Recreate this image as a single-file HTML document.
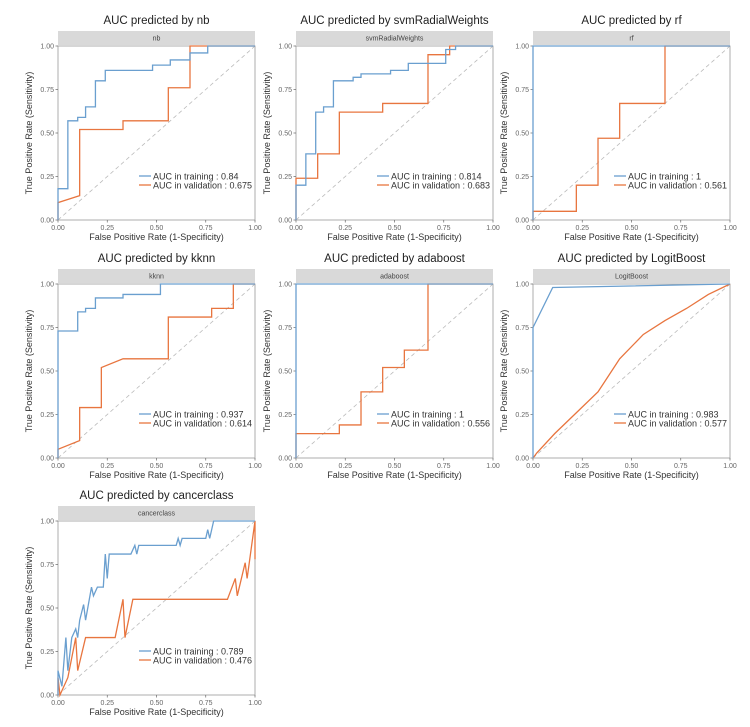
<!DOCTYPE html>
<html><head><meta charset="utf-8"><style>
body{margin:0;background:#fff;width:750px;height:727px;overflow:hidden;font-family:"Liberation Sans",sans-serif}
svg{display:block}
</style></head><body>
<svg id="chart" width="750" height="727" viewBox="0 0 750 727" xmlns="http://www.w3.org/2000/svg"></svg>
<script>
const models=["nb","svmRadialWeights","rf","kknn","adaboost","LogitBoost","cancerclass"];
const aucTrain=["0.84","0.814","1","0.937","1","0.983","0.789"];
const aucVal=["0.675","0.683","0.561","0.614","0.556","0.577","0.476"];
const trainFPR=[
[0,0,0.05,0.05,0.1,0.1,0.14,0.14,0.19,0.19,0.24,0.24,0.48,0.48,0.57,0.57,0.67,0.67,0.76,0.76,1],
[0,0,0.05,0.05,0.1,0.1,0.14,0.14,0.19,0.19,0.29,0.29,0.33,0.33,0.48,0.48,0.57,0.57,0.76,0.76,0.81,0.81,1],
[0,0,1],
[0,0,0.1,0.1,0.14,0.14,0.19,0.19,0.33,0.33,0.52,0.52,1],
[0,0,1],
[0,0,0.1,1],
[0,0,0.02,0.04,0.05,0.07,0.09,0.1,0.11,0.13,0.14,0.17,0.18,0.2,0.23,0.24,0.25,0.26,0.37,0.39,0.4,0.41,0.6,0.61,0.62,0.63,0.75,0.76,0.77,0.79,1]];
const trainTPR=[
[0,0.18,0.18,0.57,0.57,0.59,0.59,0.65,0.65,0.8,0.8,0.86,0.86,0.89,0.89,0.92,0.92,0.96,0.96,1,1],
[0,0.2,0.2,0.38,0.38,0.62,0.62,0.65,0.65,0.8,0.8,0.82,0.82,0.84,0.84,0.86,0.86,0.9,0.9,0.98,0.98,1,1],
[0,1,1],
[0,0.73,0.73,0.84,0.84,0.86,0.86,0.92,0.92,0.94,0.94,1,1],
[0,1,1],
[0,0.75,0.98,1],
[0,0.14,0.05,0.33,0.14,0.33,0.38,0.33,0.43,0.52,0.43,0.62,0.57,0.62,0.62,0.81,0.67,0.81,0.81,0.86,0.81,0.86,0.86,0.9,0.86,0.9,0.9,0.95,0.9,1,1]];
const valFPR=[
[0,0,0.11,0.11,0.33,0.33,0.56,0.56,0.67,0.67,1],
[0,0,0.11,0.11,0.22,0.22,0.44,0.44,0.67,0.67,0.78,0.78,1],
[0,0,0.22,0.22,0.33,0.33,0.44,0.44,0.67,0.67,1],
[0,0,0.11,0.11,0.22,0.22,0.33,0.56,0.56,0.78,0.78,0.89,0.89,1],
[0,0,0.22,0.22,0.33,0.33,0.44,0.44,0.55,0.55,0.67,0.67,1],
[0,0.02,0.11,0.22,0.33,0.44,0.56,0.67,0.78,0.89,1],
[0,0,0.01,0.05,0.09,0.1,0.14,0.29,0.33,0.34,0.38,0.86,0.9,0.91,0.95,0.96,1,1]];
const valTPR=[
[0,0.1,0.14,0.52,0.52,0.57,0.57,0.76,0.76,1,1],
[0,0.24,0.24,0.38,0.38,0.62,0.62,0.67,0.67,0.95,0.95,1,1],
[0,0.05,0.05,0.2,0.2,0.47,0.47,0.67,0.67,1,1],
[0,0.05,0.1,0.29,0.29,0.52,0.57,0.57,0.81,0.81,0.86,0.86,1,1],
[0,0.14,0.14,0.19,0.19,0.38,0.38,0.52,0.52,0.62,0.62,1,1],
[0,0.03,0.14,0.26,0.38,0.57,0.71,0.79,0.86,0.94,1],
[0,0.1,0,0.1,0.33,0.14,0.33,0.33,0.55,0.33,0.55,0.55,0.67,0.57,0.76,0.67,1,0.78]];
const ticks=[0,0.25,0.5,0.75,1];
const tickLabels=["0.00","0.25","0.50","0.75","1.00"];

const NS="http://www.w3.org/2000/svg";
const svg=document.getElementById("chart");
function mk(tag,attrs,parent,text){const e=document.createElementNS(NS,tag);for(const k in attrs)e.setAttribute(k,attrs[k]);if(text!==undefined)e.textContent=text;(parent||svg).appendChild(e);return e;}
const colX=[58,296,533],rowY=[46,284,521],W=197,H=174;
const BLUE="#6a9fcf",ORANGE="#e8753f";
models.forEach((m,i)=>{
  const x0=colX[i%3],y0=rowY[Math.floor(i/3)];
  const sx=v=>x0+v*W, sy=v=>y0+H-v*H;
  const g=mk("g",{});
  
  
  const t=mk("text",{x:x0+W/2,y:y0-22,"text-anchor":"middle","font-size":"11.5",fill:"#222"},g,"AUC predicted by "+m);
  
  
  const st=mk("rect",{x:x0,y:y0-15,width:W,height:14,fill:"#d9d9d9"},g);
  
  
  const stt=mk("text",{x:x0+W/2,y:y0-5.5,"text-anchor":"middle","font-size":"7",fill:"#444"},g,m);
  
  
  const fr=mk("rect",{x:x0,y:y0,width:W,height:H,fill:"#fff",stroke:"#999","stroke-width":"0.8"},g);
  
  
  ticks.forEach((tv,k)=>{
    mk("line",{x1:sx(tv),x2:sx(tv),y1:y0+H,y2:y0+H+2.5,stroke:"#666","stroke-width":"0.7"},g);
    const xl=mk("text",{x:sx(tv),y:y0+H+10,"text-anchor":"middle","font-size":"7",fill:"#666"},g,tickLabels[k]);
    
    
    mk("line",{x1:x0-2.5,x2:x0,y1:sy(tv),y2:sy(tv),stroke:"#666","stroke-width":"0.7"},g);
    const yl=mk("text",{x:x0-4,y:sy(tv)+2.5,"text-anchor":"end","font-size":"7",fill:"#666"},g,tickLabels[k]);
    
    
  });
  const xt=mk("text",{x:x0+W/2,y:y0+H+20,"text-anchor":"middle","font-size":"9",fill:"#333"},g,"False Positive Rate (1-Specificity)");
  
  
  const yt=mk("text",{x:0,y:0,"text-anchor":"middle","font-size":"9",fill:"#333",transform:`translate(${x0-26},${y0+H/2}) rotate(-90)`},g,"True Positive Rate (Sensitivity)");
  
  
  const d=mk("line",{x1:sx(0),y1:sy(0),x2:sx(1),y2:sy(1),stroke:"#bbb","stroke-width":"0.8","stroke-dasharray":"4,3"},g);
  
  
  const pv=mk("polyline",{points:valFPR[i].map((v,k)=>sx(v)+","+sy(valTPR[i][k])).join(" "),fill:"none",stroke:ORANGE,"stroke-width":"1.3"},g);
  
  
  const pt=mk("polyline",{points:trainFPR[i].map((v,k)=>sx(v)+","+sy(trainTPR[i][k])).join(" "),fill:"none",stroke:BLUE,"stroke-width":"1.3"},g);
  
  
  const lx=x0+W-116, ly=y0+H-44;
  const l1=mk("g",{},g);
  
  
  mk("line",{x1:lx,x2:lx+12,y1:ly,y2:ly,stroke:BLUE,"stroke-width":"1.3"},l1);
  mk("text",{x:lx+14,y:ly+3.5,"font-size":"9",fill:"#333"},l1,"AUC in training : "+aucTrain[i]);
  const l2=mk("g",{},g);
  
  
  mk("line",{x1:lx,x2:lx+12,y1:ly+9,y2:ly+9,stroke:ORANGE,"stroke-width":"1.3"},l2);
  mk("text",{x:lx+14,y:ly+12.5,"font-size":"9",fill:"#333"},l2,"AUC in validation : "+aucVal[i]);
});
</script>
</body></html>
